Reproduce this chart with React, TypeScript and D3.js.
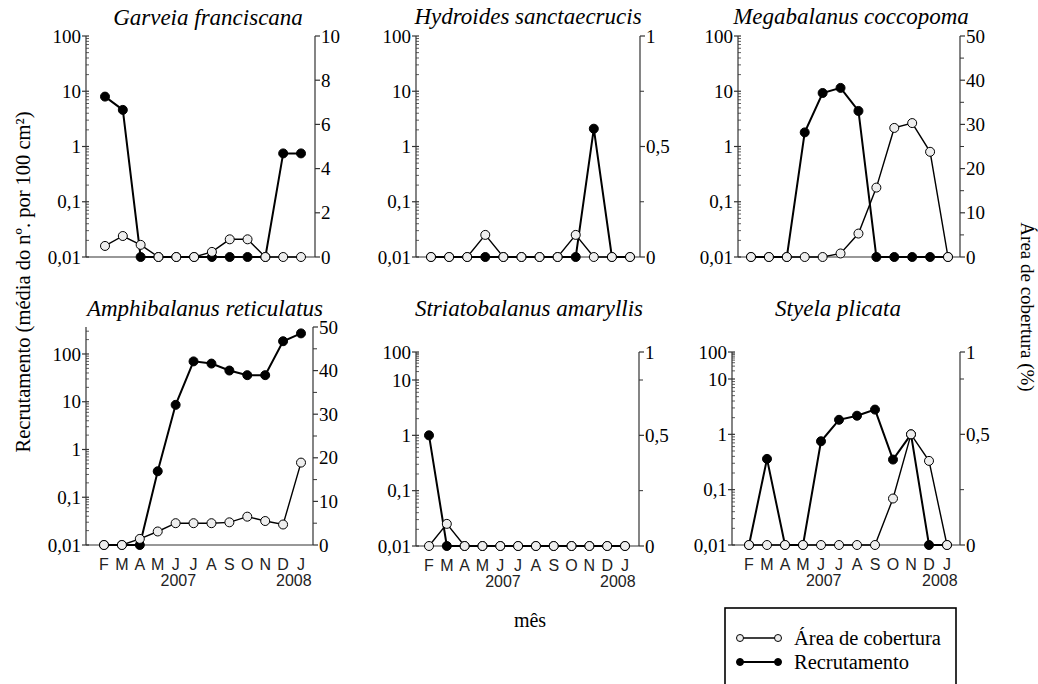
import React, { useEffect, useRef } from "react";
import * as d3 from "d3";

const months = ["F", "M", "A", "M", "J", "J", "A", "S", "O", "N", "D", "J"];
const years = ["2007", "2008"];
const speciesNames = [
  "Garveia franciscana",
  "Hydroides sanctaecrucis",
  "Megabalanus coccopoma",
  "Amphibalanus reticulatus",
  "Striatobalanus amaryllis",
  "Styela plicata",
];

// recrutamento (média do nº por 100 cm²) -- 0 is drawn on the 0,01 baseline
const recGarveia = [8, 4.6, 0, 0, 0, 0, 0, 0, 0, 0, 0.75, 0.75];
const recHydroides = [0, 0, 0, 0, 0, 0, 0, 0, 0, 2.1, 0, 0];
const recMegabalanus = [0, 0, 0, 1.8, 9.3, 11.5, 4.4, 0, 0, 0, 0, 0];
const recAmphibalanus = [0, 0, 0, 0.35, 8.6, 70, 63, 45, 36, 36, 185, 270];
const recStriatobalanus = [1, 0, 0, 0, 0, 0, 0, 0, 0, 0, 0, 0];
const recStyela = [0, 0.36, 0, 0, 0.75, 1.83, 2.17, 2.8, 0.35, 1, 0, 0];

// área de cobertura (%)
const covGarveia = [0.5, 0.95, 0.55, 0, 0, 0, 0.23, 0.8, 0.8, 0, 0, 0];
const covHydroides = [0, 0, 0, 0.1, 0, 0, 0, 0, 0.1, 0, 0, 0];
const covMegabalanus = [0, 0, 0, 0, 0, 0.8, 5.3, 15.7, 29.2, 30.3, 23.8, 0];
const covAmphibalanus = [0, 0, 1.4, 3.1, 5, 5, 5, 5.2, 6.5, 5.5, 4.7, 18.9];
const covStriatobalanus = [0, 0.1, 0, 0, 0, 0, 0, 0, 0, 0, 0, 0];
const covStyela = [0, 0, 0, 0, 0, 0, 0, 0, 0.21, 0.5, 0.38, 0];

const recSeries = [recGarveia, recHydroides, recMegabalanus, recAmphibalanus, recStriatobalanus, recStyela];
const covSeries = [covGarveia, covHydroides, covMegabalanus, covAmphibalanus, covStriatobalanus, covStyela];

const leftTicks = [0.01, 0.1, 1, 10, 100];

// panel geometry (log10 domain for the left axis, the lower row is squeezed above 10 like the original)
const layout = [
  { L: 86, R: 315, off: [19, 14], logD: [-2, 2], logR: [257, 36], rD: [0, 10], rR: [257, 36], rStep: 2, rMinor: 0, tx: 208, ty: 25, bottom: false },
  { L: 416, R: 640, off: [15, 10], logD: [-2, 2], logR: [257, 36], rD: [0, 1], rR: [257, 36], rStep: 0.5, rMinor: 0.25, tx: 528, ty: 24, bottom: false },
  { L: 738, R: 960, off: [13, 12], logD: [-2, 2], logR: [257, 36], rD: [0, 50], rR: [257, 36], rStep: 10, rMinor: 5, tx: 851, ty: 24, bottom: false },
  { L: 86, R: 313, off: [18, 12], logD: [-2, 2.565], logR: [545, 327], rD: [0, 50], rR: [545, 327], rStep: 10, rMinor: 5, tx: 205, ty: 316, bottom: true },
  { L: 416, R: 639, off: [13, 14], logD: [-2, 1, 2], logR: [546, 380, 352], rD: [0, 0.75, 1], rR: [546, 380, 352], rStep: 0.5, rMinor: 0.25, tx: 529, ty: 316, bottom: true },
  { L: 732, R: 960, off: [17, 13], logD: [-2, 1, 2], logR: [545, 379, 352], rD: [0, 0.75, 1], rR: [545, 379, 352], rStep: 0.5, rMinor: 0.25, tx: 838, ty: 316, bottom: true },
];

const SERIF = "Liberation Serif, Times New Roman, DejaVu Serif, serif";
const SANS = "Liberation Sans, Arial, DejaVu Sans, sans-serif";
const AXIS = "#333";

const fmt = (v: number) => String(+v.toFixed(2)).replace(".", ",");

function App() {
  const ref = useRef<SVGSVGElement>(null);

  function drawChart() {
    const svg = d3.select(ref.current);
    svg.selectAll("*").remove();

    layout.forEach((p, k) => {
      const g = svg.append("g");
      const logScale = d3.scaleLinear().domain(p.logD).range(p.logR);
      const yL = (v: number) => logScale(Math.log10(Math.max(v, 0.01)));
      const yR = d3.scaleLinear().domain(p.rD).range(p.rR);
      const x = d3.scaleLinear().domain([0, 11]).range([p.L + p.off[0], p.R - p.off[1]]);
      const base = p.logR[0];
      const top = p.logR[p.logR.length - 1];
      const topLog = p.logD[p.logD.length - 1];

      // axes lines
      g.append("line").attr("x1", p.L).attr("x2", p.L).attr("y1", base).attr("y2", top)
        .attr("stroke", AXIS).attr("stroke-width", 1.2);
      g.append("line").attr("x1", p.R).attr("x2", p.R).attr("y1", base).attr("y2", top)
        .attr("stroke", AXIS).attr("stroke-width", 1.2);
      g.append("line").attr("x1", p.L).attr("x2", p.R).attr("y1", base).attr("y2", base)
        .attr("stroke", AXIS).attr("stroke-width", 1.2);

      // left log axis
      const minor: number[] = [];
      for (let d = -2; d < Math.ceil(topLog); d++) {
        for (let m = 2; m <= 9; m++) {
          const lv = Math.log10(m) + d;
          if (lv <= topLog) minor.push(lv);
        }
      }
      g.selectAll(".lminor").data(minor).enter().append("line")
        .attr("x1", p.L).attr("x2", p.L + 3)
        .attr("y1", (d) => logScale(d)).attr("y2", (d) => logScale(d))
        .attr("stroke", AXIS).attr("stroke-width", 0.8);
      g.selectAll(".lmajor").data(leftTicks).enter().append("line")
        .attr("x1", p.L - 4).attr("x2", p.L + 3)
        .attr("y1", (d) => yL(d)).attr("y2", (d) => yL(d))
        .attr("stroke", AXIS).attr("stroke-width", 1.2);
      g.selectAll(".llab").data(leftTicks).enter().append("text")
        .attr("x", p.L - 5).attr("y", (d) => yL(d)).attr("dy", "0.35em")
        .attr("text-anchor", "end").style("font-family", SERIF).style("font-size", "19px")
        .text((d) => fmt(d));

      // right linear axis
      const rMax = p.rD[p.rD.length - 1];
      const rTicks = d3.range(0, rMax + 1e-9, p.rStep);
      const rMin = p.rMinor ? d3.range(p.rMinor, rMax, p.rMinor).filter((v) => Math.abs(v / p.rStep - Math.round(v / p.rStep)) > 1e-6) : [];
      g.selectAll(".rminor").data(rMin).enter().append("line")
        .attr("x1", p.R).attr("x2", p.R + 4)
        .attr("y1", (d) => yR(d)).attr("y2", (d) => yR(d))
        .attr("stroke", AXIS).attr("stroke-width", 1);
      g.selectAll(".rmajor").data(rTicks).enter().append("line")
        .attr("x1", p.R).attr("x2", p.R + 5)
        .attr("y1", (d) => yR(d)).attr("y2", (d) => yR(d))
        .attr("stroke", AXIS).attr("stroke-width", 1.2);
      g.selectAll(".rlab").data(rTicks).enter().append("text")
        .attr("x", p.R + 6).attr("y", (d) => yR(d)).attr("dy", "0.35em")
        .attr("text-anchor", "start").style("font-family", SERIF).style("font-size", "19px")
        .text((d) => fmt(d));

      // title
      g.append("text").attr("x", p.tx).attr("y", p.ty).attr("text-anchor", "middle")
        .style("font-family", SERIF).style("font-style", "italic").style("font-size", "23px")
        .text(speciesNames[k]);

      // month labels on lower row
      if (p.bottom) {
        g.selectAll(".mlab").data(months).enter().append("text")
          .attr("x", (d, i) => x(i)).attr("y", base + 25)
          .attr("text-anchor", "middle").style("font-family", SANS).style("font-size", "16px")
          .attr("fill", "#222")
          .text((d) => d);
        g.selectAll(".ylab").data(years).enter().append("text")
          .attr("x", (d, i) => x(i === 0 ? 4.15 : 10.6)).attr("y", base + 41)
          .attr("text-anchor", "middle").style("font-family", SANS).style("font-size", "16px")
          .attr("fill", "#222")
          .text((d) => d);
      }

      // recrutamento (filled)
      const rec = recSeries[k];
      const recLine = d3.line<number>().x((d, i) => x(i)).y((d) => yL(d));
      g.append("path").attr("d", recLine(rec)).attr("fill", "none")
        .attr("stroke", "#000").attr("stroke-width", 2);
      g.selectAll(".rec").data(rec).enter().append("circle")
        .attr("cx", (d, i) => x(i)).attr("cy", (d) => yL(d)).attr("r", 4.5)
        .attr("fill", "#000").attr("stroke", "#000").attr("stroke-width", 1);

      // área de cobertura (open)
      const cov = covSeries[k];
      const covLine = d3.line<number>().x((d, i) => x(i)).y((d) => yR(d));
      g.append("path").attr("d", covLine(cov)).attr("fill", "none")
        .attr("stroke", "#000").attr("stroke-width", 1.4);
      g.selectAll(".cov").data(cov).enter().append("circle")
        .attr("cx", (d, i) => x(i)).attr("cy", (d) => yR(d)).attr("r", 4.5)
        .attr("fill", "#eeeeee").attr("stroke", "#000").attr("stroke-width", 1);
    });

    // axis titles
    svg.append("text").attr("transform", "translate(30,282) rotate(-90)")
      .attr("text-anchor", "middle").style("font-family", SERIF).style("font-size", "20.5px")
      .text("Recrutamento (média do nº. por 100 cm²)");
    svg.append("text").attr("transform", "translate(1021,307) rotate(90)")
      .attr("text-anchor", "middle").style("font-family", SERIF).style("font-size", "19px")
      .text("Área de cobertura (%)");
    svg.append("text").attr("x", 530).attr("y", 627)
      .attr("text-anchor", "middle").style("font-family", SERIF).style("font-size", "20px")
      .text("mês");

    // legend
    const lg = svg.append("g");
    lg.append("rect").attr("x", 725).attr("y", 608).attr("width", 231).attr("height", 90)
      .attr("fill", "#fff").attr("stroke", "#000").attr("stroke-width", 1.6);
    const legendItems = [
      { label: "Área de cobertura", fill: "#eeeeee" },
      { label: "Recrutamento", fill: "#000" },
    ];
    legendItems.forEach((it, i) => {
      const cy = 638 + i * 24;
      lg.append("line").attr("x1", 740).attr("x2", 778).attr("y1", cy).attr("y2", cy)
        .attr("stroke", "#000").attr("stroke-width", i === 0 ? 1.4 : 2);
      [740, 778].forEach((cx) => {
        lg.append("circle").attr("cx", cx).attr("cy", cy).attr("r", 3.5)
          .attr("fill", it.fill).attr("stroke", "#000").attr("stroke-width", 1);
      });
      lg.append("text").attr("x", 794).attr("y", cy).attr("dy", "0.35em")
        .style("font-family", SERIF).style("font-size", "20.5px").text(it.label);
    });
  }

  useEffect(() => {
    drawChart();
  }, []);

  return (
    <svg ref={ref} width={1038} height={684}
      style={{ position: "absolute", left: 0, top: 0, background: "#fff" }} />
  );
}

export default App;
